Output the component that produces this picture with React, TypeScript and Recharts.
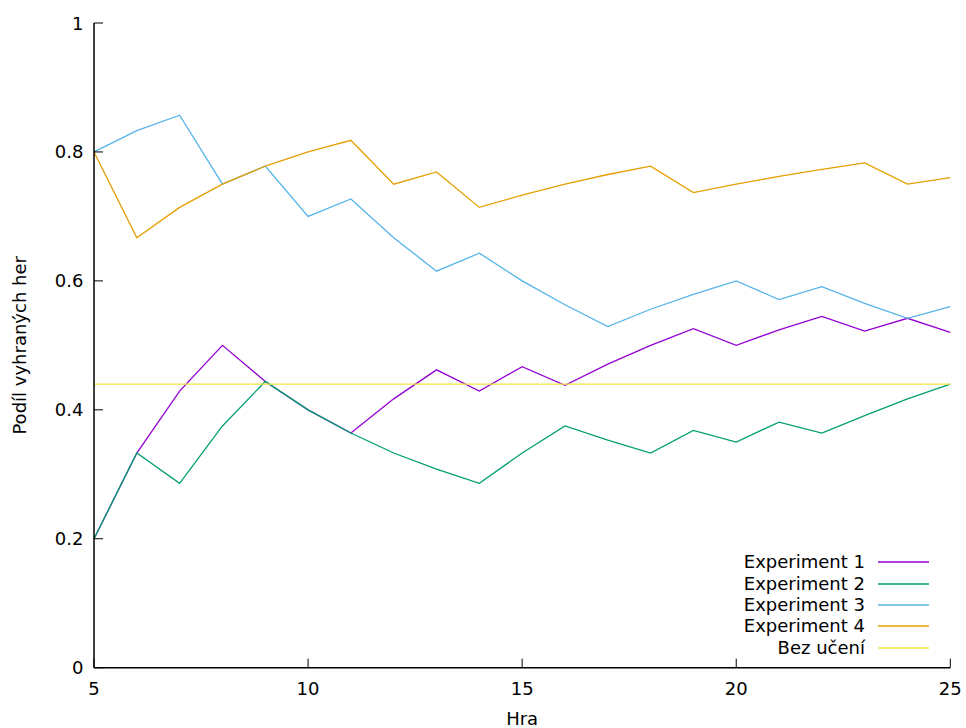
import React from 'react';
import { LineChart, Line, XAxis, YAxis, Legend, Label } from 'recharts';

const games = [5, 6, 7, 8, 9, 10, 11, 12, 13, 14, 15, 16, 17, 18, 19, 20, 21, 22, 23, 24, 25];
const experiment1 = [0.2, 0.333, 0.429, 0.5, 0.444, 0.4, 0.364, 0.417, 0.462, 0.429, 0.467, 0.438, 0.471, 0.5, 0.526, 0.5, 0.524, 0.545, 0.522, 0.542, 0.52];
const experiment2 = [0.2, 0.333, 0.286, 0.375, 0.444, 0.4, 0.364, 0.333, 0.308, 0.286, 0.333, 0.375, 0.353, 0.333, 0.368, 0.35, 0.381, 0.364, 0.391, 0.417, 0.44];
const experiment3 = [0.8, 0.833, 0.857, 0.75, 0.778, 0.7, 0.727, 0.667, 0.615, 0.643, 0.6, 0.563, 0.529, 0.556, 0.579, 0.6, 0.571, 0.591, 0.565, 0.542, 0.56];
const experiment4 = [0.8, 0.667, 0.714, 0.75, 0.778, 0.8, 0.818, 0.75, 0.769, 0.714, 0.733, 0.75, 0.765, 0.778, 0.737, 0.75, 0.762, 0.773, 0.783, 0.75, 0.76];
const bezUceni = [0.44, 0.44, 0.44, 0.44, 0.44, 0.44, 0.44, 0.44, 0.44, 0.44, 0.44, 0.44, 0.44, 0.44, 0.44, 0.44, 0.44, 0.44, 0.44, 0.44, 0.44];

const xTicks = [5, 10, 15, 20, 25];
const yTicks = [0, 0.2, 0.4, 0.6, 0.8, 1];

const seriesNames = ['Experiment 1', 'Experiment 2', 'Experiment 3', 'Experiment 4', 'Bez učení'];
const seriesColors = ['#9400d3', '#009e73', '#56b4e9', '#e69f00', '#f0e442'];
const seriesValues = [experiment1, experiment2, experiment3, experiment4, bezUceni];

const data = games.map((g, i) => {
  const row: Record<string, number> = { game: g };
  seriesValues.forEach((vals, k) => {
    row['s' + k] = vals[i];
  });
  return row;
});

const FONT = "'DejaVu Sans', sans-serif";
const TICK_LEN = 9;

const BottomTick = (props: any) => {
  const { x, y, payload } = props;
  return (
    <g>
      <line x1={x} y1={y} x2={x} y2={y - TICK_LEN} stroke="#000" strokeWidth={1} />
      <text x={x} y={y + 27} textAnchor="middle" fontSize={18} fontFamily={FONT} fill="#000">
        {payload.value}
      </text>
    </g>
  );
};

const TopTick = (props: any) => {
  const { x, y } = props;
  return <line x1={x} y1={y} x2={x} y2={y + TICK_LEN} stroke="#000" strokeWidth={1} />;
};

const LeftTick = (props: any) => {
  const { x, y, payload } = props;
  return (
    <g>
      <line x1={x} y1={y} x2={x + TICK_LEN} y2={y} stroke="#000" strokeWidth={1} />
      <text x={x - 10.5} y={y + 6.5} textAnchor="end" fontSize={18} fontFamily={FONT} fill="#000">
        {String(payload.value)}
      </text>
    </g>
  );
};

const RightTick = (props: any) => {
  const { x, y } = props;
  return <line x1={x} y1={y} x2={x - TICK_LEN} y2={y} stroke="#000" strokeWidth={1} />;
};

const LegendContent = () => {
  return (
    <div style={{ fontFamily: FONT }}>
      {seriesNames.map((name, i) => (
        <div
          key={name}
          style={{
            height: 21.35,
            display: 'flex',
            alignItems: 'center',
            justifyContent: 'flex-end',
          }}
        >
          <span style={{ fontSize: 18, lineHeight: '18px', color: '#000', whiteSpace: 'nowrap' }}>{name}</span>
          <svg width={51} height={4} style={{ marginLeft: 13, display: 'block' }}>
            <line x1={0} y1={2} x2={51} y2={2} stroke={seriesColors[i]} strokeWidth={1.4} />
          </svg>
        </div>
      ))}
    </div>
  );
};

export default function App() {
  return (
    <div style={{ position: 'absolute', left: 0, top: 0, width: 966, height: 728, background: '#fff', fontFamily: FONT }}>
      <LineChart
        width={966}
        height={728}
        data={data}
        margin={{ top: 23, right: 15.7, bottom: 30.3, left: 34 }}
      >
        <XAxis
          dataKey="game"
          type="number"
          domain={[5, 25]}
          ticks={xTicks}
          height={30}
          tickSize={0}
          tickMargin={0}
          tickLine={false}
          tick={<BottomTick />}
          axisLine={{ stroke: '#000', strokeWidth: 1.5 }}
          interval={0}
        >
          <Label
            content={(p: any) => {
              const vb = p.viewBox || {};
              return (
                <text
                  x={vb.x + vb.width / 2}
                  y={725}
                  textAnchor="middle"
                  fontSize={18}
                  fontFamily={FONT}
                  fill="#000"
                >
                  Hra
                </text>
              );
            }}
          />
        </XAxis>
        <XAxis
          xAxisId="top"
          orientation="top"
          dataKey="game"
          type="number"
          domain={[5, 25]}
          ticks={xTicks}
          height={0}
          tickSize={0}
          tickMargin={0}
          tickLine={false}
          tick={<TopTick />}
          axisLine={{ stroke: '#000', strokeWidth: 1.5 }}
          interval={0}
        />
        <YAxis
          type="number"
          domain={[0, 1]}
          ticks={yTicks}
          width={60}
          tickSize={0}
          tickMargin={0}
          tickLine={false}
          tick={<LeftTick />}
          axisLine={{ stroke: '#000', strokeWidth: 1.5 }}
          interval={0}
        >
          <Label
            content={(p: any) => {
              const vb = p.viewBox || {};
              const cy = vb.y + vb.height / 2;
              return (
                <text
                  x={26}
                  y={cy}
                  transform={`rotate(-90, 26, ${cy})`}
                  textAnchor="middle"
                  fontSize={18}
                  fontFamily={FONT}
                  fill="#000"
                >
                  Podíl vyhraných her
                </text>
              );
            }}
          />
        </YAxis>
        <YAxis
          yAxisId="right"
          orientation="right"
          type="number"
          domain={[0, 1]}
          ticks={yTicks}
          width={0}
          tickSize={0}
          tickMargin={0}
          tickLine={false}
          tick={<RightTick />}
          axisLine={{ stroke: '#000', strokeWidth: 1.5 }}
          interval={0}
        />
        {seriesNames.map((name, k) => (
          <Line
            key={name}
            type="linear"
            dataKey={'s' + k}
            name={name}
            stroke={seriesColors[k]}
            strokeWidth={1.3}
            dot={false}
            activeDot={false}
            isAnimationActive={false}
          />
        ))}
        <Legend
          layout="vertical"
          align="center"
          verticalAlign="middle"
          content={<LegendContent />}
          wrapperStyle={{ left: 708, top: 551.6, width: 221, height: 107 }}
        />
      </LineChart>
    </div>
  );
}
